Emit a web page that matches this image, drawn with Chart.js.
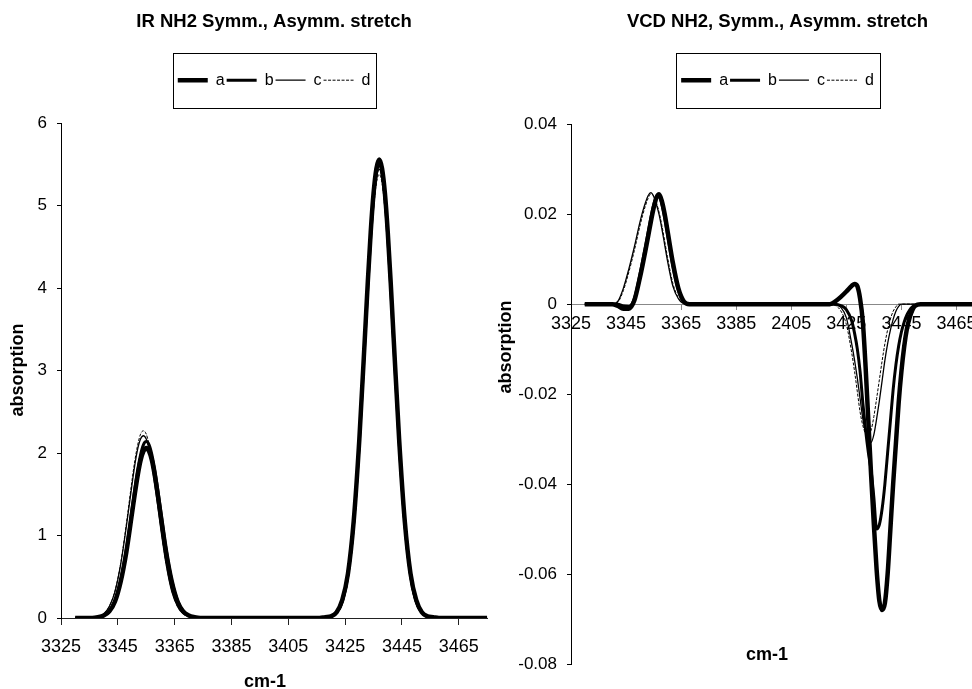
<!DOCTYPE html>
<html>
<head>
<meta charset="utf-8">
<title>IR / VCD NH2 stretch</title>
<script src="https://cdn.jsdelivr.net/npm/chart.js@4.4.1/dist/chart.umd.min.js"></script>
<style>
  html, body { margin: 0; padding: 0; background: #fff; overflow: hidden; }
  #wrap { position: relative; width: 972px; height: 689px; overflow: hidden; }
  canvas { position: absolute; top: 0; }
  #irChart { left: 0; }
  #vcdChart { left: 490px; }
</style>
</head>
<body>
<div id="wrap">
  <canvas id="irChart" width="490" height="689"></canvas>
  <canvas id="vcdChart" width="494" height="689"></canvas>
</div>
<script>
// ---- data ----
const seriesNames = ["a", "b", "c", "d"];

const xTicks = [3325, 3345, 3365, 3385, 3405, 3425, 3445, 3465];
const irXLabels = ["3325", "3345", "3365", "3385", "3405", "3425", "3445", "3465"];
const vcdXLabels = ["3325", "3345", "3365", "3385", "2405", "3425", "3445", "3465"];

const irYTicks = [0, 1, 2, 3, 4, 5, 6];
const irYLabels = ["0", "1", "2", "3", "4", "5", "6"];
const vcdYTicks = [-0.08, -0.06, -0.04, -0.02, 0, 0.02, 0.04];
const vcdYLabels = ["-0.08", "-0.06", "-0.04", "-0.02", "0", "0.02", "0.04"];

// IR (absorption) wavenumbers
const xIR = [3330, 3334, 3336, 3338, 3340, 3342, 3344, 3346, 3348, 3350,
  3351, 3352, 3353, 3354, 3355, 3356, 3357, 3358, 3359, 3360,
  3362, 3364, 3366, 3368, 3370, 3372, 3374, 3380, 3390, 3400,
  3410, 3416, 3418, 3420, 3422, 3424, 3426, 3428, 3430, 3432,
  3433, 3434, 3435, 3436, 3437, 3438, 3439, 3440, 3441, 3442,
  3444, 3446, 3448, 3450, 3452, 3454, 3456, 3458, 3465, 3475];

const irA = [0, 0, 0, 0.01, 0.03, 0.08, 0.2, 0.44, 0.8, 1.27,
  1.51, 1.73, 1.91, 2.02, 2.06, 2.02, 1.91, 1.73, 1.51, 1.27,
  0.8, 0.44, 0.2, 0.08, 0.03, 0.01, 0, 0, 0, 0,
  0, 0, 0.01, 0.02, 0.07, 0.22, 0.54, 1.17, 2.17, 3.44,
  4.09, 4.68, 5.15, 5.45, 5.56, 5.45, 5.15, 4.68, 4.09, 3.44,
  2.17, 1.17, 0.54, 0.22, 0.07, 0.02, 0.01, 0, 0, 0];
const irB = [0, 0, 0, 0.01, 0.03, 0.08, 0.21, 0.45, 0.83, 1.32,
  1.57, 1.8, 1.98, 2.1, 2.14, 2.1, 1.98, 1.8, 1.57, 1.32,
  0.83, 0.45, 0.21, 0.08, 0.03, 0.01, 0, 0, 0, 0,
  0, 0, 0.01, 0.02, 0.07, 0.21, 0.54, 1.16, 2.14, 3.4,
  4.04, 4.63, 5.09, 5.4, 5.5, 5.4, 5.09, 4.63, 4.04, 3.4,
  2.14, 1.16, 0.54, 0.21, 0.07, 0.02, 0.01, 0, 0, 0];
const irC = [0, 0, 0, 0.02, 0.05, 0.14, 0.32, 0.65, 1.11, 1.62,
  1.86, 2.05, 2.17, 2.21, 2.17, 2.05, 1.86, 1.62, 1.37, 1.11,
  0.65, 0.32, 0.14, 0.05, 0.02, 0, 0, 0, 0, 0,
  0, 0, 0, 0.02, 0.06, 0.17, 0.46, 1.04, 2, 3.26,
  3.92, 4.53, 5.02, 5.33, 5.44, 5.33, 5.02, 4.53, 3.92, 3.26,
  2, 1.04, 0.46, 0.17, 0.06, 0.02, 0, 0, 0, 0];
const irD = [0, 0, 0, 0.02, 0.05, 0.14, 0.33, 0.66, 1.14, 1.67,
  1.91, 2.1, 2.23, 2.27, 2.23, 2.1, 1.91, 1.67, 1.4, 1.14,
  0.66, 0.33, 0.14, 0.05, 0.02, 0, 0, 0, 0, 0,
  0, 0, 0, 0.02, 0.05, 0.17, 0.46, 1.03, 1.98, 3.23,
  3.88, 4.48, 4.96, 5.27, 5.38, 5.27, 4.96, 4.48, 3.88, 3.23,
  1.98, 1.03, 0.46, 0.17, 0.05, 0.02, 0, 0, 0, 0];

// VCD wavenumbers
const xVCD = [3330, 3336, 3340, 3342, 3344, 3346, 3348, 3350, 3351, 3352,
  3353, 3354, 3355, 3356, 3357, 3358, 3359, 3360, 3362, 3364,
  3366, 3368, 3370, 3375, 3390, 3405, 3415, 3419, 3421, 3423,
  3425, 3427, 3428, 3429, 3430, 3431, 3432, 3433, 3434, 3435,
  3436, 3437, 3438, 3439, 3440, 3441, 3442, 3443, 3444, 3445,
  3446, 3447, 3448, 3449, 3450, 3452, 3455, 3462, 3475];

const vcdA = [0, 0, 0, -0.0004, -0.001, -0.001, 0.0008, 0.0058, 0.0087, 0.0118,
  0.015, 0.0183, 0.0213, 0.0236, 0.0244, 0.0229, 0.0201, 0.0165, 0.0092, 0.0035,
  0.0006, 0, 0, 0, 0, 0, 0, 0, 0.0006, 0.0016,
  0.0028, 0.0041, 0.0045, 0.004, 0.0012, -0.004, -0.014, -0.026, -0.038, -0.049,
  -0.059, -0.066, -0.068, -0.0665, -0.06, -0.05, -0.04, -0.031, -0.022, -0.015,
  -0.0095, -0.0055, -0.003, -0.0013, -0.0004, 0, 0, 0, 0];
const vcdB = [0, 0, 0, 0, -0.0004, -0.0005, 0.0012, 0.0065, 0.0095, 0.0127,
  0.0159, 0.0192, 0.022, 0.0238, 0.024, 0.0222, 0.0193, 0.0157, 0.0085, 0.0031,
  0.0005, 0, 0, 0, 0, 0, 0, 0, 0, -0.0003,
  -0.0012, -0.0038, -0.0065, -0.01, -0.015, -0.022, -0.028, -0.033, -0.037, -0.043,
  -0.05, -0.049, -0.0455, -0.04, -0.033, -0.026, -0.019, -0.0135, -0.0093, -0.0062,
  -0.004, -0.0024, -0.0013, -0.0006, -0.0002, 0, 0, 0, 0];
const vcdC = [0, 0, 0, 0.0006, 0.0035, 0.0078, 0.0127, 0.0181, 0.0205, 0.0225,
  0.0241, 0.0248, 0.024, 0.0222, 0.0199, 0.0168, 0.0133, 0.0098, 0.004, 0.0012,
  0.0001, 0, 0, 0, 0, 0, 0, 0, -0.0001, -0.0007,
  -0.003, -0.009, -0.0125, -0.0165, -0.021, -0.0255, -0.0285, -0.03, -0.0307, -0.029,
  -0.0255, -0.0215, -0.017, -0.0125, -0.0088, -0.0058, -0.0034, -0.0016, -0.0005, 0,
  0, 0, 0, 0, 0, 0, 0, 0, 0];
const vcdD = [0, 0, 0, 0.0004, 0.003, 0.0071, 0.0119, 0.0173, 0.0197, 0.0218,
  0.0235, 0.0245, 0.0241, 0.0226, 0.0204, 0.0175, 0.0141, 0.0106, 0.0046, 0.0014,
  0.0002, 0, 0, 0, 0, 0, 0, 0, -0.0003, -0.0015,
  -0.0045, -0.011, -0.015, -0.0195, -0.024, -0.027, -0.0288, -0.0292, -0.028, -0.025,
  -0.021, -0.0168, -0.0126, -0.0088, -0.0057, -0.0033, -0.0016, -0.0006, 0, 0,
  0, 0, 0, 0, 0, 0, 0, 0, 0];

// ---- styling ----
const FONT = '"Liberation Sans", Arial, Helvetica, sans-serif';
const lineWidths = [4.5, 3, 1.3, 1];
const lineDashes = [[], [], [], [3, 1.5]];

Chart.defaults.font.family = FONT;
Chart.defaults.color = "#000";

// push the plot area down below the framed legend
const legendGap = {
  id: "legendGap",
  beforeInit(chart, args, opts) {
    const fit = chart.legend.fit;
    chart.legend.fit = function () {
      fit.call(this);
      this.height += opts.extra || 0;
    };
  }
};

// thin frame round the legend items
const legendFrame = {
  id: "legendFrame",
  afterDraw(chart) {
    const boxes = chart.legend && chart.legend.legendHitBoxes;
    if (!boxes || !boxes.length) return;
    const first = boxes[0], last = boxes[boxes.length - 1];
    const cy = first.top + first.height / 2;
    const left = Math.round(first.left - 5) + 0.5;
    const right = Math.round(last.left + last.width + 6) + 0.5;
    const ctx = chart.ctx;
    ctx.save();
    ctx.strokeStyle = "#000";
    ctx.lineWidth = 1;
    ctx.strokeRect(left, Math.round(cy - 27.5) + 0.5, right - left, 55);
    ctx.restore();
  }
};

// axis captions placed like the original (Excel does not centre them)
const axisText = {
  id: "axisText",
  afterDraw(chart, args, opts) {
    const ctx = chart.ctx;
    (opts.items || []).forEach(it => {
      ctx.save();
      ctx.font = "bold 18px " + FONT;
      ctx.fillStyle = "#000";
      ctx.textAlign = "center";
      ctx.textBaseline = "middle";
      ctx.translate(it.x, it.y);
      if (it.rotate) ctx.rotate(-Math.PI / 2);
      ctx.fillText(it.text, 0, 0);
      ctx.restore();
    });
  }
};

function legendLabels(chart) {
  const items = Chart.defaults.plugins.legend.labels.generateLabels(chart);
  items.forEach(item => {
    const ds = chart.data.datasets[item.datasetIndex];
    item.lineWidth = ds.borderWidth;
    item.lineDash = ds.borderDash;
    item.strokeStyle = ds.borderColor;
  });
  return items;
}

function buildChart(canvasId, o) {
  const datasets = o.series.map((ys, i) => ({
    label: seriesNames[i],
    data: o.xs.map((x, k) => ({ x: x, y: ys[k] })),
    borderColor: "#000",
    borderWidth: lineWidths[i],
    borderDash: lineDashes[i],
    pointRadius: 0,
    pointHoverRadius: 0,
    fill: false,
    cubicInterpolationMode: "monotone"
  }));

  return new Chart(document.getElementById(canvasId), {
    type: "line",
    data: { datasets: datasets },
    options: {
      responsive: false,
      animation: false,
      events: [],
      layout: { padding: { top: 0, right: 0, bottom: o.bottomPad, left: 0 } },
      scales: {
        x: {
          type: "linear",
          min: 3325,
          max: 3475,
          position: o.xPosition,
          afterBuildTicks: s => { s.ticks = xTicks.map(v => ({ value: v })); },
          afterFit: s => { if (o.xHeight) s.height = o.xHeight; },
          ticks: {
            font: { size: 18 },
            padding: o.xTickPad,
            maxRotation: 0,
            autoSkip: false,
            callback: (v, i) => o.xLabels[i]
          },
          grid: { drawOnChartArea: false, tickLength: o.xTickLen, color: o.xAxisColor },
          border: { color: o.xAxisColor }
        },
        y: {
          type: "linear",
          min: o.yTicks[0],
          max: o.yTicks[o.yTicks.length - 1],
          afterBuildTicks: s => { s.ticks = o.yTicks.map(v => ({ value: v })); },
          afterFit: s => { s.width = o.yWidth; },
          ticks: { font: { size: 17 }, padding: 10, callback: (v, i) => o.yLabels[i] },
          grid: { drawOnChartArea: false, tickLength: 4, color: "#000" },
          border: { color: "#000" }
        }
      },
      plugins: {
        title: {
          display: true,
          text: o.title,
          fullSize: false,
          color: "#000",
          font: { size: 18.5, weight: "bold" },
          padding: { top: 11, bottom: 37 }
        },
        legend: {
          fullSize: false,
          labels: {
            usePointStyle: true,
            pointStyle: "line",
            pointStyleWidth: 30,
            padding: 2,
            color: "#000",
            font: { size: 16 },
            generateLabels: legendLabels
          }
        },
        tooltip: { enabled: false },
        legendGap: { extra: o.legendExtra },
        axisText: { items: o.captions }
      }
    },
    plugins: [legendGap, legendFrame, axisText]
  });
}

buildChart("irChart", {
  title: "IR NH2 Symm., Asymm. stretch",
  xs: xIR,
  series: [irA, irB, irC, irD],
  xLabels: irXLabels,
  yTicks: irYTicks,
  yLabels: irYLabels,
  xPosition: "bottom",
  xHeight: 71,
  xTickPad: 11,
  xTickLen: 7,
  xAxisColor: "#222",
  yWidth: 61,
  bottomPad: 0,
  legendExtra: 25,
  captions: [
    { text: "absorption", x: 18, y: 370, rotate: true },
    { text: "cm-1", x: 265, y: 682 }
  ]
});

buildChart("vcdChart", {
  title: "VCD NH2, Symm., Asymm. stretch",
  xs: xVCD,
  series: [vcdA, vcdB, vcdC, vcdD],
  xLabels: vcdXLabels,
  yTicks: vcdYTicks,
  yLabels: vcdYLabels,
  xPosition: { y: 0 },
  xHeight: 0,
  xTickPad: 4,
  xTickLen: 5,
  xAxisColor: "#888",
  yWidth: 81,
  bottomPad: 25,
  legendExtra: 26,
  captions: [
    { text: "absorption", x: 16, y: 347, rotate: true },
    { text: "cm-1", x: 277, y: 655 }
  ]
});
</script>
</body>
</html>
